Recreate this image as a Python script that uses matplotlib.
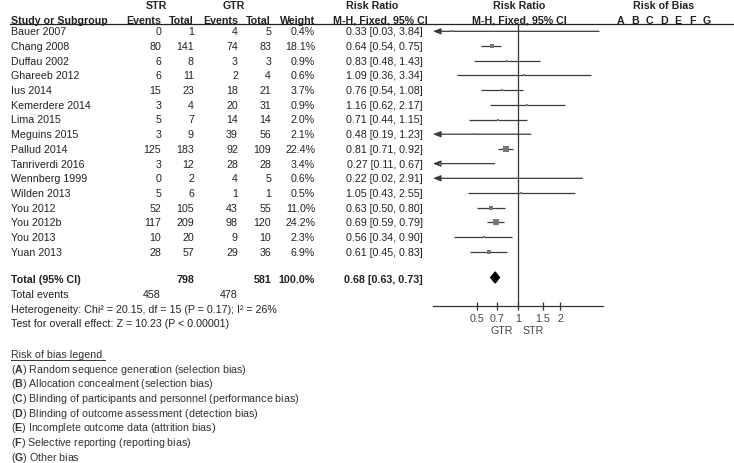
import numpy as np
import matplotlib
matplotlib.use("Agg")
import matplotlib.pyplot as plt
from matplotlib.patches import Polygon

plt.rcParams['font.family'] = ['Liberation Sans', 'DejaVu Sans']
plt.rcParams['mathtext.fontset'] = 'custom'
plt.rcParams['mathtext.rm'] = 'Liberation Sans'
plt.rcParams['mathtext.bf'] = 'Liberation Sans:bold'

# ---------------- data ----------------
studies = ["Bauer 2007", "Chang 2008", "Duffau 2002", "Ghareeb 2012", "Ius 2014",
           "Kemerdere 2014", "Lima 2015", "Meguins 2015", "Pallud 2014",
           "Tanriverdi 2016", "Wennberg 1999", "Wilden 2013", "You 2012",
           "You 2012b", "You 2013", "Yuan 2013"]
str_events = [0, 80, 6, 6, 15, 3, 5, 3, 125, 3, 0, 5, 52, 117, 10, 28]
str_total = [1, 141, 8, 11, 23, 4, 7, 9, 183, 12, 2, 6, 105, 209, 20, 57]
gtr_events = [4, 74, 3, 2, 18, 20, 14, 39, 92, 28, 4, 1, 43, 98, 9, 29]
gtr_total = [5, 83, 3, 4, 21, 31, 14, 56, 109, 28, 5, 1, 55, 120, 10, 36]
weights = [0.4, 18.1, 0.9, 0.6, 3.7, 0.9, 2.0, 2.1, 22.4, 3.4, 0.6, 0.5, 11.0, 24.2, 2.3, 6.9]
rr = [0.33, 0.64, 0.83, 1.09, 0.76, 1.16, 0.71, 0.48, 0.81, 0.27, 0.22, 1.05, 0.63, 0.69, 0.56, 0.61]
ci_lo = [0.03, 0.54, 0.48, 0.36, 0.54, 0.62, 0.44, 0.19, 0.71, 0.11, 0.02, 0.43, 0.50, 0.59, 0.34, 0.45]
ci_hi = [3.84, 0.75, 1.43, 3.34, 1.08, 2.17, 1.15, 1.23, 0.92, 0.67, 2.91, 2.55, 0.80, 0.79, 0.90, 0.83]

total_str = 798
total_gtr = 581
total_weight = "100.0%"
pooled_rr = 0.68
pooled_lo = 0.63
pooled_hi = 0.73
events_str = 458
events_gtr = 478
heterogeneity = "Heterogeneity: Chi² = 20.15, df = 15 (P = 0.17); I² = 26%"
overall = "Test for overall effect: Z = 10.23 (P < 0.00001)"
tick_vals = [0.5, 0.7, 1, 1.5, 2]
tick_labels = ["0.5", "0.7", "1", "1.5", "2"]
fav_left = "GTR"
fav_right = "STR"
bias_letters = ["A", "B", "C", "D", "E", "F", "G"]
bias_desc = ["Random sequence generation (selection bias)",
             "Allocation concealment (selection bias)",
             "Blinding of participants and personnel (performance bias)",
             "Blinding of outcome assessment (detection bias)",
             "Incomplete outcome data (attrition bias)",
             "Selective reporting (reporting bias)",
             "Other bias"]

# ---------------- layout ----------------
W, H = 734, 464
fig = plt.figure(figsize=(W / 100, H / 100), dpi=100)
bg = fig.add_axes([0, 0, 1, 1])
bg.set_xlim(0, W)
bg.set_ylim(H, 0)
bg.axis("off")

TXT = "#222222"
FS = 7.7
row0, dy = 32.3, 14.7
row_y = [row0 + dy * i for i in range(len(studies))]
y_total = 280.0
y_events = 295.5
y_het = 310.0
y_test = 324.5

col_name = 11
col_se, col_st, col_ge, col_gt, col_w, col_rr = 161, 194, 238, 271, 315, 423

def t(x, y, s, ha="left", bold=False, color=TXT, size=FS):
    return bg.text(x, y, s, ha=ha, va="center", fontsize=size,
                   fontweight="bold" if bold else "normal", color=color)

# headers
t(156, 6, "STR", ha="center", bold=True)
t(234, 6, "GTR", ha="center", bold=True)
t(372.5, 6, "Risk Ratio", ha="center", bold=True)
t(519, 6, "Risk Ratio", ha="center", bold=True)
t(664, 6, "Risk of Bias", ha="center", bold=True)
t(col_name, 20.5, "Study or Subgroup", bold=True)
t(col_se, 20.5, "Events", ha="right", bold=True)
t(col_st, 20.5, "Total", ha="right", bold=True)
t(col_ge, 20.5, "Events", ha="right", bold=True)
t(col_gt, 20.5, "Total", ha="right", bold=True)
t(col_w, 20.5, "Weight", ha="right", bold=True)
t(380.5, 20.5, "M-H, Fixed, 95% CI", ha="center", bold=True)
t(519, 20.5, "M-H, Fixed, 95% CI", ha="center", bold=True)
for i, L in enumerate(bias_letters):
    t(621 + 14.3 * i, 20.5, L, ha="center", bold=True)
bg.plot([10, W], [25, 25], color="#222222", lw=0.9)

# study rows
for i, s in enumerate(studies):
    y = row_y[i]
    t(col_name, y, s)
    t(col_se, y, str(str_events[i]), ha="right")
    t(col_st, y, str(str_total[i]), ha="right")
    t(col_ge, y, str(gtr_events[i]), ha="right")
    t(col_gt, y, str(gtr_total[i]), ha="right")
    t(col_w, y, f"{weights[i]:.1f}%", ha="right")
    t(col_rr, y, f"{rr[i]:.2f} [{ci_lo[i]:.2f}, {ci_hi[i]:.2f}]", ha="right")

# totals
t(col_name, y_total, "Total (95% CI)", bold=True)
t(col_st, y_total, str(total_str), ha="right", bold=True)
t(col_gt, y_total, str(total_gtr), ha="right", bold=True)
t(col_w, y_total, total_weight, ha="right", bold=True)
t(col_rr, y_total, f"{pooled_rr:.2f} [{pooled_lo:.2f}, {pooled_hi:.2f}]", ha="right", bold=True)
t(col_name, y_events, "Total events")
t(col_se, y_events, str(events_str), ha="right")
t(col_ge, y_events, str(events_gtr), ha="right")
t(col_name, y_het, heterogeneity)
t(col_name, y_test, overall)

# ---------------- forest panel ----------------
x0, x1 = 433, 603
y_top, y_axis = 25, 307.3
ax = fig.add_axes([x0 / W, (H - y_axis) / H, (x1 - x0) / W, (y_axis - y_top) / H])
ax.set_xscale("log")
xmin, xmax = 0.241, 4.1
ax.set_xlim(xmin, xmax)
ax.set_ylim(y_axis, y_top)
ax.patch.set_alpha(0)
for sp in ["top", "left", "right"]:
    ax.spines[sp].set_visible(False)
ax.spines["bottom"].set_color("#333333")
ax.spines["bottom"].set_linewidth(0.9)
ax.set_yticks([])
ax.set_xticks(tick_vals)
ax.set_xticklabels(tick_labels)
ax.minorticks_off()
ax.tick_params(axis="x", direction="inout", length=6, width=0.9, color="#333333",
               labelsize=FS, labelcolor="#444444", pad=1.5)
ax.axvline(1, color="#333333", lw=0.9)

LINE = "#3a3a3a"
SQ = "#777777"
for i in range(len(studies)):
    y = row_y[i]
    lo, hi = ci_lo[i], ci_hi[i]
    if lo < xmin:
        ax.annotate("", xy=(xmin, y), xytext=(min(hi, xmax), y),
                    arrowprops=dict(arrowstyle="-|>,head_length=0.45,head_width=0.18",
                                    color=LINE, lw=0.9, shrinkA=0, shrinkB=0),
                    annotation_clip=False)
    else:
        ax.plot([lo, min(hi, xmax)], [y, y], color=LINE, lw=0.9, solid_capstyle="butt")
    if xmin <= rr[i] <= xmax:
        side_px = max(2.0, 1.15 * np.sqrt(weights[i]))
        ax.plot(rr[i], y, marker="s", ms=side_px * 0.72, mfc=SQ, mec=SQ,
                mew=0, linestyle="none", zorder=3)

# pooled diamond
half_h = 5.5
ax.add_patch(Polygon([(pooled_lo, y_total - 1.5), (pooled_rr, y_total - 1.5 - half_h),
                      (pooled_hi, y_total - 1.5), (pooled_rr, y_total - 1.5 + half_h)],
                     closed=True, color="black", zorder=4))

t(501.7, 331, fav_left, ha="center", color="#444444")
t(533.3, 331, fav_right, ha="center", color="#444444")

# ---------------- risk of bias legend ----------------
leg_y0 = 355
hdr = t(col_name, leg_y0, "Risk of bias legend ", color="#333333")
fig.canvas.draw()
bb = hdr.get_window_extent(fig.canvas.get_renderer())
bg.plot([col_name, col_name + bb.width], [leg_y0 + 5.5, leg_y0 + 5.5], color="#333333", lw=0.7)
for i, (L, d) in enumerate(zip(bias_letters, bias_desc)):
    t(col_name, leg_y0 + dy * (i + 1), "(" + r"$\mathbf{" + L + "}$" + ") " + d, color="#333333")

fig.savefig("out.png", dpi=100)
